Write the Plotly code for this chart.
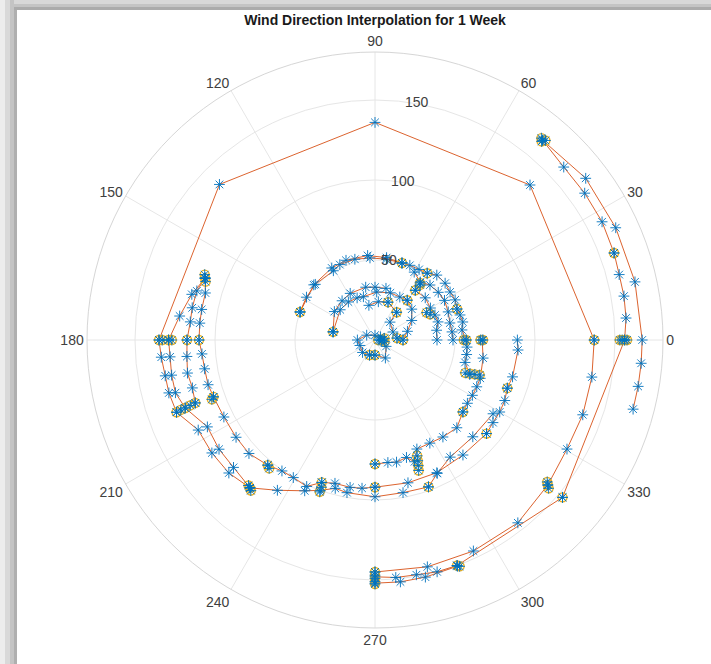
import plotly.graph_objects as go

# ---------------- data (theta in degrees, r in data units) ----------------
A_theta = [229.8, 222.3, 214.7, 207, 200, 194.4, 189.7, 184.6, 180, 135, 90, 45, 0, -9.7, -19.8, -29.6, -40, -52, -65, -77, -90]
A_r = [121, 123.5, 124, 124, 132, 133, 133, 134, 135, 137.5, 136, 137, 137, 137.5, 138, 138, 141, 145, 145.5, 145.5, 145]

B_theta = [-90, -85, -80, -75, -70, -40, 0, 5, 10, 15, 20, 27.5, 35, 42.5, 50]
B_r = [148, 149, 149, 150, 150, 153, 156, 157.5, 158, 158, 159, 160, 160, 160, 163]

B2_theta = [-90, -84, -78, -70]
B2_r = [152, 152, 151.5, 150.5]

C_theta = [50, 37.5, 25, 12.6, 0, -5, -10, -15]
C_r = [163, 166, 166, 166.5, 167, 167, 167, 167]

D_theta = [0, -4, -15, -20, -25, -30, -35, -40, -52.6, -65, -77, -90, -95, -99.6, -105.6, -110.5,
           -115, -120.7, -125.4, -130.6, -138, -145, -153, -160.6, -165, -170.4, -175.4, -180,
           -185.5, -190, -195.5, -200]
D_r = [89, 89.6, 89, 88, 89.5, 90, 90, 91, 90.5, 91.5, 91.6, 92, 93, 93.4, 93, 95,
       101, 100, 100.4, 103, 106, 106, 106, 107, 108, 108, 108.5, 110,
       110, 110, 110, 113]

E_theta = [-32, -44.7, -57.3, -65, -70, -79.6, -90, -100.4, -105, -110, -115, -123, -130.2, -138, -145,
           -152.6, -160.3, -165.2, -170.2, -175.3, -180, -187, -194, -200]
E_r = [87, 86, 87, 92, 97.7, 97, 98, 97, 96, 100, 104, 112, 121, 119, 119,
       118, 126, 129, 129, 128.5, 129, 123, 118, 113]

I_theta = [160, 164.6, 170, 174.4, 180, 185, 190, 194.7, 199.3]
I_r = [113, 115.5, 116, 116, 117.5, 118, 119, 118, 119]

F_theta = [159.5, 148, 137, 121, 115, 104, 93.5, 82, 70.7, 65, 58, 52, 46.4, 39, 32.6, 26.6, 20.7,
           16.4, 11.6, 6.6, 0, -4.4, -9, -14, -20]
F_r = [50, 50.5, 51, 50.5, 52, 52, 51.4, 51, 51, 51.5, 52, 53, 56, 56.4, 55.7, 56, 54.8,
       55.4, 56, 54.7, 57, 57.7, 58, 58, 63]

F2_theta = [159.5, 138, 121, 110, 95, 82, 70.7]
F2_r = [50, 51.5, 52.5, 53, 53, 52, 51]

G_theta = [0, -9.5, -20, -24.7, -29.6, -34.4, -39.3, -47, -55, -62, -69, -72, -75, -80, -84, -90]
G_r = [67, 68.5, 70, 70, 70, 70, 71, 75, 74, 73, 73, 80, 76, 77.5, 77, 77.5]

R2_theta = [60, 52, 45, 37, 29.7, 21, 12.8, 6, 0]
R2_r = [49, 46, 48.6, 49.5, 50, 49, 48, 48.4, 48.75]

R3_theta = [51, 40, 30, 22.6, 16, 9, 0]
R3_r = [40, 41, 40, 40.6, 41, 39, 38.75]

K_theta = [169, 139, 125, 113, 105, 88, 72, 60, 51, 40, 28, 15, 0]
K_r = [26.7, 28.8, 29, 28.6, 28, 30, 31, 31, 32, 30, 26, 21, 17.5]

K2_theta = [169, 145, 130, 118, 100, 90, 78]
K2_r = [26.7, 31, 32, 33, 33.5, 33, 33]

L_theta = [100, 85, 71, 52, 50, 24, 5]
L_r = [22, 24, 25, 22, 14.6, 12.3, 13.8]

M_theta = [0, 30, 90, 150, 180, 200, 225, 250, 270, 300, 330, 355]
M_r = [3, 4, 3, 6, 11, 10, 11, 10, 9.4, 13, 8, 4]

# yellow knots (original samples)
Y_theta = [229.8, 230.5, 229, 200, 199.8, 199.7, 199.5, 199.3, 160, 161, 159,
           180, 180, 180, 180, 180, 180, 229.4, 230.5, 249.5, 250, 250, 270, 270,
           290, 289.5, 289, 288.5, 290, 320, 340, 320.7, 340, 340.5, 341, 341.5,
           0, 0, 0, 0, 0, 320, 319.5, 320.5, 270, 270, 270, 270, 270, 290, 290.5, 320,
           0, 0, 0, 0, 20, 50, 50.5, 49.5, 0, 159.5, 70.7, 52, 20.7, 51.7, 50.7, 51,
           169, 51, 71, 52, 5, 0, 0, 10, 350, 270, 250, 25, 28, 199.4, 200]
Y_r = [121, 122, 120.5, 132, 129, 126, 122.5, 119, 113, 112, 114,
       135, 133, 129, 127, 117.5, 110, 103, 104, 95, 98, 101, 92, 77.5,
       77, 80, 83, 86, 97.7, 91, 88, 71, 60, 63, 66, 69,
       57, 55.5, 66, 67.5, 17.5, 141, 142.7, 139.5, 145, 147, 149, 151, 152.5, 150, 151, 153,
       153, 154.5, 156, 157.5, 159, 162, 163.5, 164, 137, 50, 51, 53, 54.8, 45.4, 44.5, 40,
       26.7, 32, 25, 22, 13.8, 2, 5, 6, 6, 9.4, 10, 38, 36.5, 107, 108.5]

angle_ticks = [0, 30, 60, 90, 120, 150, 180, 210, 240, 270, 300, 330]
angle_labels = [str(a) for a in angle_ticks]
r_ticks = [50, 100, 150]
r_labels = ["50", "100", "150"]

tracks = [(A_theta, A_r), (B_theta, B_r), (B2_theta, B2_r), (C_theta, C_r), (D_theta, D_r),
          (E_theta, E_r), (I_theta, I_r), (F_theta, F_r), (F2_theta, F2_r), (G_theta, G_r),
          (R2_theta, R2_r), (R3_theta, R3_r), (K_theta, K_r), (K2_theta, K2_r), (L_theta, L_r),
          (M_theta, M_r)]

ORANGE = "#D95319"
BLUE = "#0072BD"
YELLOW = "#EDB120"

fig = go.Figure()

# interpolation lines
for th, rr in tracks:
    fig.add_trace(go.Scatterpolar(theta=th, r=rr, mode="lines",
                                  line=dict(color=ORANGE, width=1), opacity=0.9,
                                  hoverinfo="skip", showlegend=False))

# original samples (yellow circles)
fig.add_trace(go.Scatterpolar(theta=Y_theta, r=Y_r, mode="markers",
                              marker=dict(symbol="circle-open", size=9, color=YELLOW,
                                          line=dict(color=YELLOW, width=1.4)),
                              showlegend=False))

# asterisks on all points
all_t = [t for th, _ in tracks for t in th] + Y_theta
all_r = [v for _, rr in tracks for v in rr] + Y_r
fig.add_trace(go.Scatterpolar(theta=all_t, r=all_r, mode="markers",
                              marker=dict(symbol="asterisk-open", size=9, color=BLUE,
                                          line=dict(color=BLUE, width=0.9)),
                              showlegend=False))

# radial tick labels placed at 80 degrees, like the reference
fig.add_trace(go.Scatterpolar(theta=[80] * len(r_ticks), r=r_ticks, mode="text",
                              text=r_labels, textposition="middle center",
                              textfont=dict(size=14, color="#404040", family="Liberation Sans"),
                              hoverinfo="skip", showlegend=False))

W, H = 711, 664
cx, cy, R = 375, 340, 288
fig.update_layout(
    width=W, height=H,
    margin=dict(l=0, r=0, t=0, b=0),
    paper_bgcolor="white",
    title=dict(text="<b>Wind Direction Interpolation for 1 Week</b>",
               x=cx / W, xanchor="center", y=1 - 20 / H, yanchor="middle",
               font=dict(family="Liberation Sans", size=14, color="#1a1a1a")),
    polar=dict(
        domain=dict(x=[(cx - R) / W, (cx + R) / W], y=[1 - (cy + R) / H, 1 - (cy - R) / H]),
        bgcolor="white",
        angularaxis=dict(rotation=0, direction="counterclockwise",
                         tickmode="array", tickvals=angle_ticks, ticktext=angle_labels,
                         ticks="", showline=True, linecolor="#D6D6D6", linewidth=1,
                         gridcolor="#E6E6E6", gridwidth=1,
                         tickfont=dict(size=14, color="#404040", family="Liberation Sans")),
        radialaxis=dict(range=[0, 180], tickmode="array", tickvals=r_ticks,
                        showticklabels=False, ticks="", showline=False,
                        gridcolor="#E6E6E6", gridwidth=1, angle=80),
    ),
    shapes=[
        # window shadow: top strip
        dict(type="rect", xref="paper", yref="paper", x0=0, x1=1, y0=1 - 4 / H, y1=1,
             fillcolor="#D8D8D8", line=dict(width=0), layer="above"),
        dict(type="rect", xref="paper", yref="paper", x0=0, x1=1, y0=1 - 7 / H, y1=1 - 4 / H,
             fillcolor="#C4C4C4", line=dict(width=0), layer="above"),
        dict(type="rect", xref="paper", yref="paper", x0=0, x1=1, y0=1 - 10 / H, y1=1 - 7 / H,
             fillcolor="#ABABAB", line=dict(width=0), layer="above"),
        # left strip
        dict(type="rect", xref="paper", yref="paper", x0=0, x1=5 / W, y0=0, y1=1,
             fillcolor="#EDEDED", line=dict(width=0), layer="above"),
        dict(type="rect", xref="paper", yref="paper", x0=5 / W, x1=10 / W, y0=0, y1=1,
             fillcolor="#D9D9D9", line=dict(width=0), layer="above"),
        dict(type="rect", xref="paper", yref="paper", x0=10 / W, x1=14 / W, y0=0, y1=1,
             fillcolor="#C4C4C4", line=dict(width=0), layer="above"),
        dict(type="rect", xref="paper", yref="paper", x0=14 / W, x1=17 / W, y0=0, y1=1 - 10 / H,
             fillcolor="#AFAFAF", line=dict(width=0), layer="above"),
    ],
)

fig.write_html("out.html", config={"displayModeBar": False},
               post_script="document.body.style.margin='0px';document.body.style.overflow='hidden';")
